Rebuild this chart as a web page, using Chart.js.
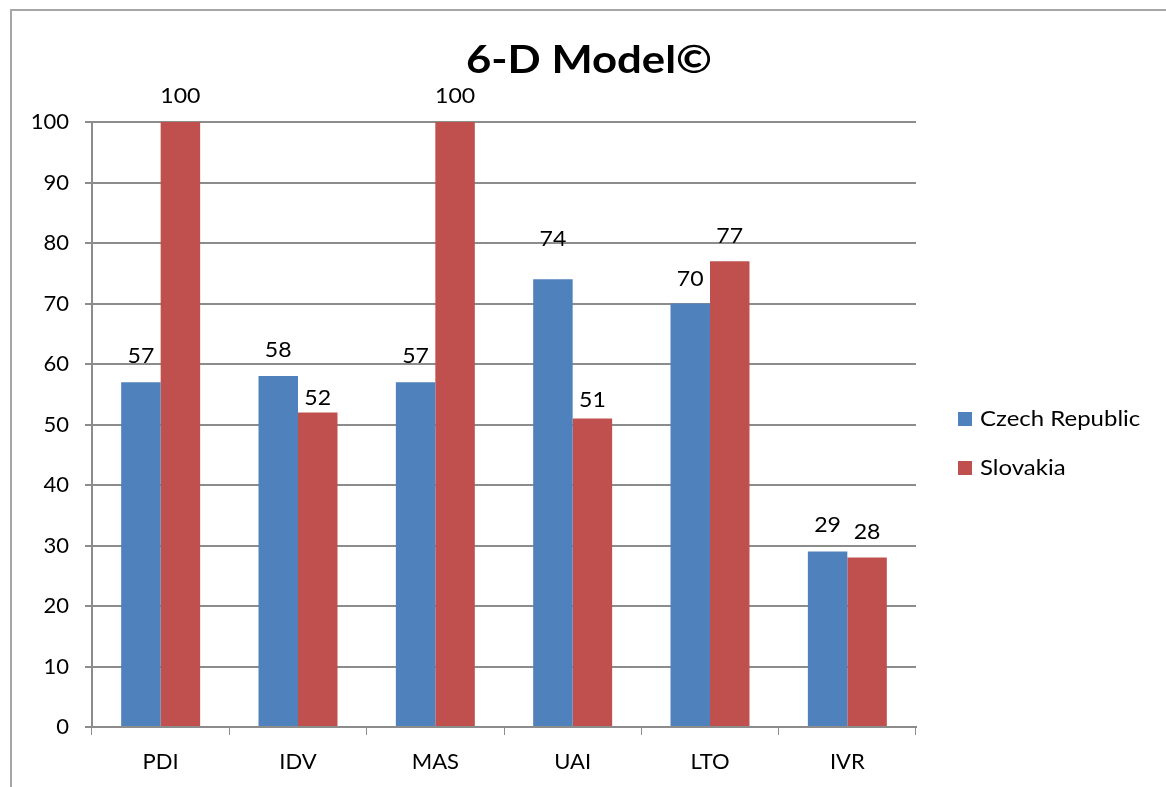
<!DOCTYPE html>
<html>
<head>
<meta charset="utf-8">
<title>6-D Model©</title>
<script src="https://cdn.jsdelivr.net/npm/chart.js@4.4.1/dist/chart.umd.min.js"></script>
<style>
  html, body { margin: 0; padding: 0; background: #ffffff; }
  #wrap { width: 1166px; height: 787px; }
</style>
</head>
<body>
<div id="wrap"><canvas id="chart" width="1166" height="787"></canvas></div>
<script>
// Hofstede dimensions and country scores
const dimensions = ['PDI', 'IDV', 'MAS', 'UAI', 'LTO', 'IVR'];
const czechRepublic = [57, 58, 57, 74, 70, 29];
const slovakia = [100, 52, 100, 51, 77, 28];
const yTicks = [0, 10, 20, 30, 40, 50, 60, 70, 80, 90, 100];
const chartTitle = '6-D Model©';
const seriesNames = ['Czech Republic', 'Slovakia'];

// gap (px) between each value label's baseline and the top of its bar
const labelGaps = [
  [19, 19, 19, 33, 18, 20],
  [19, 7, 19, 11, 18, 19]
];

const FONT = 'Lato, "Open Sans", sans-serif';
const GRID = '#8c8c8c';

// draws text squeezed/stretched horizontally by sx around its anchor
function drawText(ctx, text, x, y, align, sx) {
  ctx.save();
  ctx.translate(x, y);
  ctx.scale(sx, 1);
  ctx.textAlign = align;
  ctx.fillText(text, 0, 0);
  ctx.restore();
}

// white background + outer frame
const framePlugin = {
  id: 'frame',
  beforeDraw(chart) {
    const ctx = chart.ctx;
    ctx.save();
    ctx.fillStyle = '#ffffff';
    ctx.fillRect(0, 0, chart.width, chart.height);
    ctx.strokeStyle = '#a6a6a6';
    ctx.lineWidth = 2;
    ctx.strokeRect(11, 10, chart.width + 20, chart.height + 20);
    ctx.restore();
  }
};

// title, value labels and the right-hand legend
const labelsPlugin = {
  id: 'labels',
  afterDatasetsDraw(chart) {
    const ctx = chart.ctx;
    ctx.save();
    ctx.fillStyle = '#000000';
    ctx.textBaseline = 'alphabetic';

    ctx.font = '22px ' + FONT;
    chart.data.datasets.forEach((ds, i) => {
      const meta = chart.getDatasetMeta(i);
      meta.data.forEach((bar, j) => {
        drawText(ctx, String(ds.data[j]), bar.x, bar.y - labelGaps[i][j], 'center', 1.05);
      });
    });

    ctx.font = 'bold 38px ' + FONT;
    const tw = ctx.measureText(chartTitle).width;
    drawText(ctx, chartTitle, 589, 73, 'center', 246 / tw);

    ctx.font = '22px ' + FONT;
    ctx.textBaseline = 'middle';
    chart.data.datasets.forEach((ds, i) => {
      const cy = 419 + i * 49;
      ctx.fillStyle = ds.backgroundColor;
      ctx.fillRect(958, cy - 7, 14, 14);
      ctx.fillStyle = '#000000';
      drawText(ctx, ds.label, 980, cy, 'left', 1.09);
    });
    ctx.restore();
  }
};

new Chart(document.getElementById('chart'), {
  type: 'bar',
  data: {
    labels: dimensions,
    datasets: [
      { label: seriesNames[0], data: czechRepublic, backgroundColor: '#4f81bd' },
      { label: seriesNames[1], data: slovakia, backgroundColor: '#c0504d' }
    ]
  },
  options: {
    responsive: false,
    animation: false,
    devicePixelRatio: 1,
    layout: { padding: { left: 12, top: 122, right: 250, bottom: 0 } },
    plugins: {
      legend: { display: false },
      title: { display: false },
      tooltip: { enabled: false }
    },
    datasets: {
      bar: { categoryPercentage: 0.575, barPercentage: 1.0 }
    },
    scales: {
      x: {
        afterFit(scale) { scale.height = 60; },
        grid: { drawOnChartArea: false, drawTicks: true, tickLength: 8, color: GRID, offset: true },
        border: { color: GRID, width: 2 },
        ticks: { color: '#000000', font: { family: FONT, size: 22 }, padding: 14 }
      },
      y: {
        min: 0,
        max: 100,
        afterFit(scale) { scale.width = 80; },
        afterBuildTicks(scale) { scale.ticks = yTicks.map(v => ({ value: v })); },
        grid: { color: GRID, lineWidth: 2, tickLength: 7 },
        border: { color: GRID, width: 2 },
        ticks: { color: '#000000', font: { family: FONT, size: 22 }, padding: 16 }
      }
    }
  },
  plugins: [framePlugin, labelsPlugin]
});
</script>
</body>
</html>
